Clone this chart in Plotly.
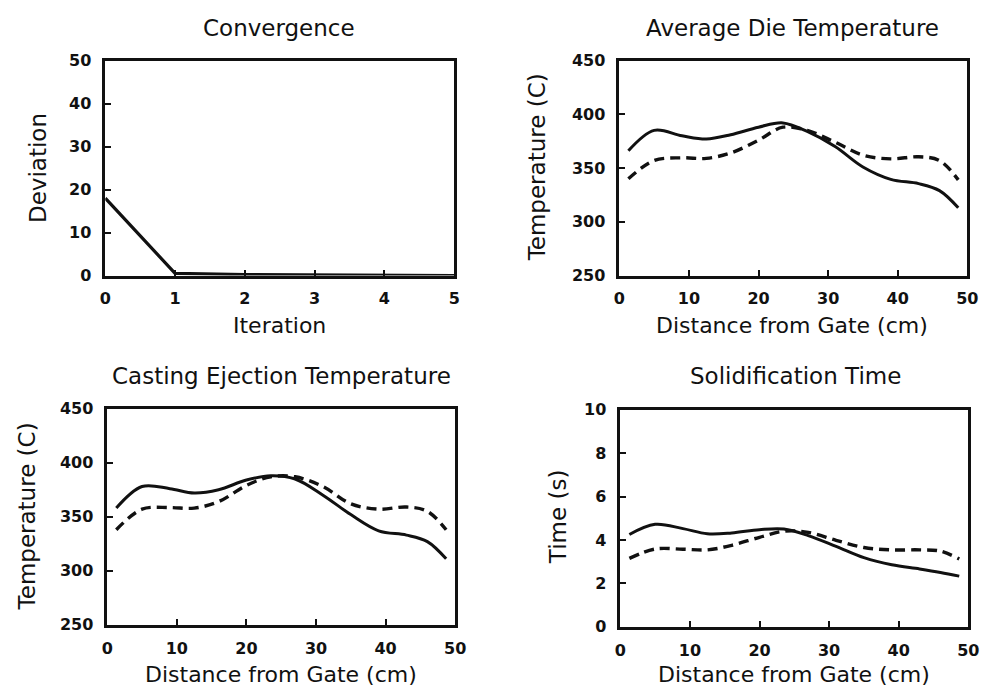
import plotly.graph_objects as go

# ---------------- data ----------------
iterations = [0, 1, 2, 3, 4, 5]
deviation = [18, 0.5, 0.2, 0.1, 0.05, 0.0]

distance = [1.3, 5, 9, 12.5, 16, 20, 23.5, 27, 31, 35, 39, 43, 46, 48.7]

die_temp_solid = [366, 385, 380, 377, 381, 388, 392, 384, 370, 351, 339.5, 335.5, 329, 313]
die_temp_dashed = [340, 357, 359.5, 359, 364, 376, 388, 385, 374, 362, 358.5, 360.5, 357, 339]

eject_temp_solid = [358, 378, 376, 372, 375, 384, 388, 385, 370, 352, 337, 333, 327, 311]
eject_temp_dashed = [338, 357, 358.5, 358, 364, 379, 387, 387, 378, 362, 357, 359, 355, 338]

solid_time_solid = [4.25, 4.72, 4.52, 4.28, 4.32, 4.47, 4.5, 4.2, 3.7, 3.18, 2.85, 2.66, 2.5, 2.33]
solid_time_dashed = [3.15, 3.58, 3.57, 3.54, 3.75, 4.12, 4.4, 4.35, 3.98, 3.65, 3.54, 3.54, 3.48, 3.12]

titles = ["Convergence", "Average Die Temperature",
          "Casting Ejection Temperature", "Solidification Time"]
x_titles = ["Iteration", "Distance from Gate (cm)",
            "Distance from Gate (cm)", "Distance from Gate (cm)"]
y_titles = ["Deviation", "Temperature (C)", "Temperature (C)", "Time (s)"]

# ---------------- figure ----------------
W, H = 996, 696
FONT = "DejaVu Sans"
INK = "#111111"

fig = go.Figure()

def px_x(p):
    return p / W

def px_y(p):
    return 1 - p / H

# plot areas in pixels: (left, right, top, bottom)
boxes = [(101, 456, 53, 274), (624, 978, 53, 274),
         (103, 457, 411, 633), (625, 979, 412, 635)]

fig.add_trace(go.Scatter(x=iterations, y=deviation, mode="lines",
                         line=dict(color=INK, width=3.2),
                         xaxis="x", yaxis="y", showlegend=False))

def pair(ys, yd, ax):
    xa = "x" + str(ax)
    ya = "y" + str(ax)
    fig.add_trace(go.Scatter(x=distance, y=ys, mode="lines",
                             line=dict(color=INK, width=3, shape="spline", smoothing=1.0),
                             xaxis=xa, yaxis=ya, showlegend=False))
    fig.add_trace(go.Scatter(x=distance, y=yd, mode="lines",
                             line=dict(color=INK, width=3.4, shape="spline", smoothing=1.0,
                                       dash="10px,6px"),
                             xaxis=xa, yaxis=ya, showlegend=False))

pair(die_temp_solid, die_temp_dashed, 2)
pair(eject_temp_solid, eject_temp_dashed, 3)
pair(solid_time_solid, solid_time_dashed, 4)

ranges = [
    dict(x=[0, 5], dx=1, y=[0, 50], dy=10),
    dict(x=[0, 50], dx=10, y=[250, 450], dy=50),
    dict(x=[0, 50], dx=10, y=[250, 450], dy=50),
    dict(x=[0, 50], dx=10, y=[0, 10], dy=2),
]

layout = dict(width=W, height=H, margin=dict(l=0, r=0, t=0, b=0),
              paper_bgcolor="white", plot_bgcolor="white",
              font=dict(family=FONT, color=INK), showlegend=False)

tickfont = dict(family=FONT, size=16, color=INK, weight="bold")

for i, (box, rg) in enumerate(zip(boxes, ranges)):
    n = "" if i == 0 else str(i + 1)
    l, r, t, b = box
    common = dict(showgrid=False, zeroline=False, showline=True, linecolor=INK,
                  linewidth=2.5, mirror=True, ticks="inside", ticklen=6,
                  tickwidth=1.5, tickcolor=INK, tickfont=tickfont)
    layout["xaxis" + n] = dict(domain=[px_x(l), px_x(r)], range=rg["x"],
                               tick0=rg["x"][0], dtick=rg["dx"], anchor="y" + n,
                               ticklabelstandoff=7, **common)
    layout["yaxis" + n] = dict(domain=[px_y(b), px_y(t)], range=rg["y"],
                               tick0=rg["y"][0], dtick=rg["dy"], anchor="x" + n,
                               ticklabelstandoff=8, **common)

fig.update_layout(**layout)

TS = 22
ann = []
for txt, (cx, cy) in zip(titles, [(278, 20), (800, 20), (280, 377), (803, 377)]):
    ann.append(dict(text=txt, x=px_x(cx), y=px_y(cy), xref="paper", yref="paper",
                    showarrow=False, xanchor="center", yanchor="middle",
                    font=dict(family=FONT, size=23, color=INK)))
for txt, (cx, cy) in zip(x_titles, [(278, 325), (800, 325), (280, 684), (802, 684)]):
    ann.append(dict(text=txt, x=px_x(cx), y=px_y(cy), xref="paper", yref="paper",
                    showarrow=False, xanchor="center", yanchor="middle",
                    font=dict(family=FONT, size=TS, color=INK)))
for txt, (cx, cy) in zip(y_titles, [(32, 163), (540, 163), (21, 522), (561, 522)]):
    ann.append(dict(text=txt, x=px_x(cx), y=px_y(cy), xref="paper", yref="paper",
                    showarrow=False, xanchor="center", yanchor="middle", textangle=-90,
                    font=dict(family=FONT, size=23, color=INK)))
fig.update_layout(annotations=ann)

fig.write_html("out.html")
